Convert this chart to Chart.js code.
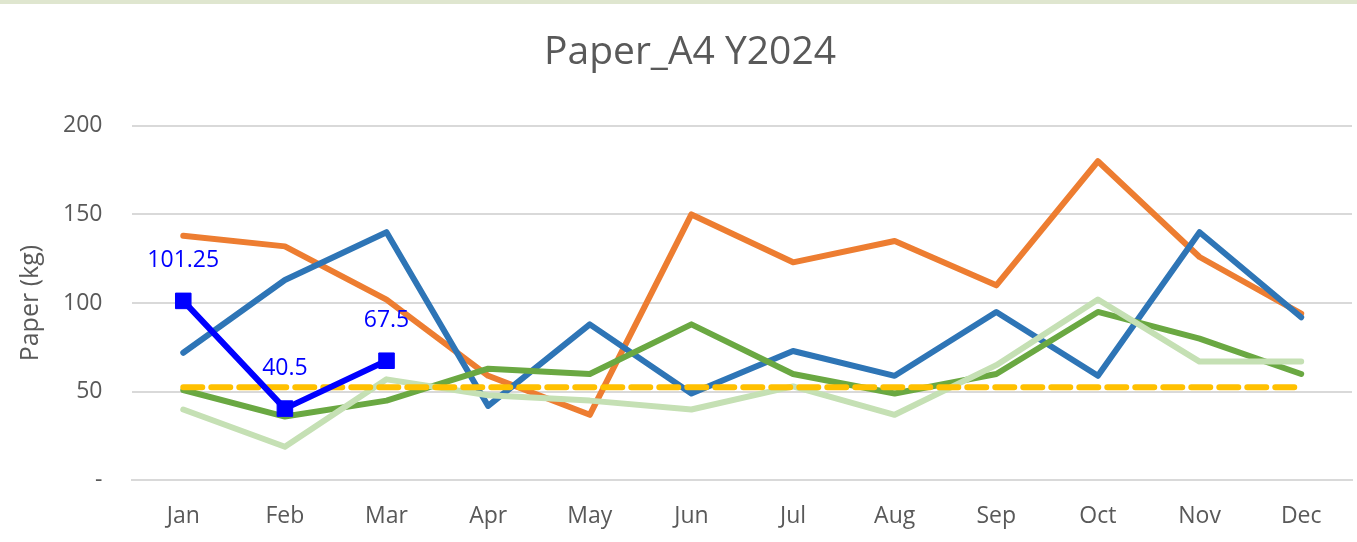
<!DOCTYPE html>
<html>
<head>
<meta charset="utf-8">
<script src="https://cdn.jsdelivr.net/npm/chart.js@4"></script>
<style>
  html, body { margin: 0; padding: 0; background: #fff; }
  body { border-top: 4px solid #dfe6cf; }
  #wrap { width: 1357px; height: 538px; }
</style>
</head>
<body>
<div id="wrap"><canvas id="chart"></canvas></div>
<script>
const months = ['Jan', 'Feb', 'Mar', 'Apr', 'May', 'Jun', 'Jul', 'Aug', 'Sep', 'Oct', 'Nov', 'Dec'];
const orangeVals = [138, 132, 102, 59, 37, 150, 123, 135, 110, 180, 126, 94];
const steelVals = [72, 113, 140, 42, 88, 49, 73, 59, 95, 59, 140, 92];
const greenVals = [51, 36, 45, 63, 60, 88, 60, 49, 60, 95, 80, 60];
const lightGreenVals = [40, 19, 57, 48, 45, 40, 53, 37, 65, 102, 67, 67];
const actualVals = [101.25, 40.5, 67.5, null, null, null, null, null, null, null, null, null];
const targetVals = [52.5, 52.5, 52.5, 52.5, 52.5, 52.5, 52.5, 52.5, 52.5, 52.5, 52.5, 52.5];
const yTicks = [0, 50, 100, 150, 200];

const FONT = "'Open Sans', 'Liberation Sans', sans-serif";

// labels above the blue points
const pointLabels = {
    id: 'pointLabels',
    afterDatasetsDraw(chart) {
        const c = chart.ctx;
        const meta = chart.getDatasetMeta(0);
        c.save();
        c.font = '23px ' + FONT;
        c.fillStyle = '#0000ff';
        c.textAlign = 'center';
        c.textBaseline = 'middle';
        meta.data.forEach((pt, i) => {
            const v = actualVals[i];
            if (v === null) return;
            c.fillText(String(v), pt.x, pt.y - 40);
        });
        c.restore();
    }
};

new Chart(document.getElementById('chart'), {
    type: 'line',
    data: {
        labels: months,
        datasets: [
            {
                data: actualVals, borderColor: '#0000ff', backgroundColor: '#0000ff',
                borderWidth: 6, pointStyle: 'rect', pointRadius: 11, pointHoverRadius: 11,
                pointBorderWidth: 1
            },
            {
                data: targetVals, borderColor: '#ffc000', borderWidth: 6,
                borderDash: [19, 9], pointRadius: 0
            },
            { data: lightGreenVals, borderColor: '#c5e0b4', borderWidth: 6, pointRadius: 0 },
            { data: greenVals, borderColor: '#6aa842', borderWidth: 6, pointRadius: 0 },
            { data: steelVals, borderColor: '#2e75b6', borderWidth: 6, pointRadius: 0 },
            { data: orangeVals, borderColor: '#ed7d31', borderWidth: 6, pointRadius: 0 }
        ]
    },
    options: {
        responsive: true,
        maintainAspectRatio: false,
        animation: false,
        layout: { autoPadding: false, padding: { top: 25, right: 5, bottom: 11, left: 28 } },
        elements: { line: { tension: 0, borderCapStyle: 'round', borderJoinStyle: 'round' } },
        plugins: {
            legend: { display: false },
            tooltip: { enabled: false },
            title: {
                display: true,
                text: 'Paper_A4 Y2024',
                color: '#595959',
                font: { family: FONT, size: 39, weight: 'normal' },
                padding: { top: 0, bottom: 50 }
            }
        },
        scales: {
            x: {
                offset: true,
                grid: { display: false, drawTicks: false },
                border: { color: '#d9d9d9', width: 2 },
                ticks: { color: '#595959', font: { family: FONT, size: 23 }, padding: 22 },
                afterFit(axis) { axis.height -= 21; }
            },
            y: {
                min: 0, max: 200,
                afterBuildTicks(axis) { axis.ticks = yTicks.map(v => ({ value: v })); },
                grid: { color: '#d9d9d9', lineWidth: 2, drawTicks: false },
                border: { display: false },
                ticks: {
                    color: '#595959', font: { family: FONT, size: 23 }, padding: 30,
                    callback: v => v === 0 ? '-' : v
                },
                title: {
                    display: true, text: 'Paper (kg)', color: '#595959',
                    font: { family: FONT, size: 25 }, padding: { top: -12, bottom: 18 }
                },
                afterFit(axis) { axis.width -= 31; }
            }
        }
    },
    plugins: [pointLabels]
});
</script>
</body>
</html>
